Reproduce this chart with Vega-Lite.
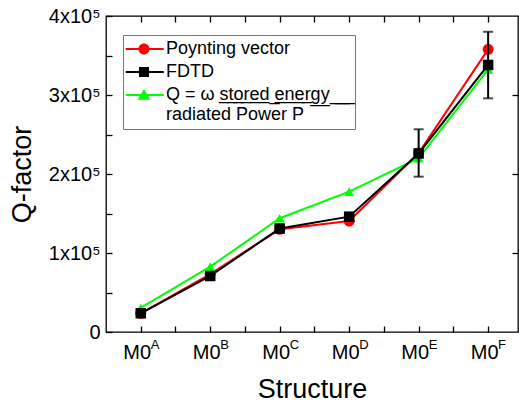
{
  "$schema": "https://vega.github.io/schema/vega-lite/v6.json",
  "width": 412,
  "height": 316,
  "autosize": "none",
  "padding": {"left": 106, "top": 16, "right": 1, "bottom": 73},
  "background": "white",
  "config": {
    "view": {"stroke": "#000", "strokeWidth": 1.3},
    "font": "Liberation Sans",
    "axis": {
      "labelFont": "Liberation Sans", "titleFont": "Liberation Sans",
      "labelColor": "#000", "titleColor": "#000", "tickColor": "#000", "tickWidth": 1.3,
      "grid": false, "domain": false, "labelFontSize": 20, "titleFontSize": 27,
      "titleFontWeight": "normal", "labelOverlap": false, "labelFlush": false
    }
  },
  "datasets": {
    "q": [
      {"structure": "M0A", "idx": 1, "series": "Poynting vector", "q": 23700},
      {"structure": "M0B", "idx": 2, "series": "Poynting vector", "q": 73400},
      {"structure": "M0C", "idx": 3, "series": "Poynting vector", "q": 130000},
      {"structure": "M0D", "idx": 4, "series": "Poynting vector", "q": 140500},
      {"structure": "M0E", "idx": 5, "series": "Poynting vector", "q": 226600},
      {"structure": "M0F", "idx": 6, "series": "Poynting vector", "q": 357800},
      {"structure": "M0A", "idx": 1, "series": "Q", "q": 30400},
      {"structure": "M0B", "idx": 2, "series": "Q", "q": 82700},
      {"structure": "M0C", "idx": 3, "series": "Q", "q": 144000},
      {"structure": "M0D", "idx": 4, "series": "Q", "q": 177600},
      {"structure": "M0E", "idx": 5, "series": "Q", "q": 220000},
      {"structure": "M0F", "idx": 6, "series": "Q", "q": 332500},
      {"structure": "M0A", "idx": 1, "series": "FDTD", "q": 23700},
      {"structure": "M0B", "idx": 2, "series": "FDTD", "q": 70900},
      {"structure": "M0C", "idx": 3, "series": "FDTD", "q": 131000},
      {"structure": "M0D", "idx": 4, "series": "FDTD", "q": 146000},
      {"structure": "M0E", "idx": 5, "series": "FDTD", "q": 226000},
      {"structure": "M0F", "idx": 6, "series": "FDTD", "q": 338000}
    ],
    "err": [
      {"structure": "M0E", "idx": 5, "lo": 196600, "hi": 256600},
      {"structure": "M0F", "idx": 6, "lo": 295800, "hi": 380000}
    ],
    "cats": [
      {"structure": "M0A", "idx": 1, "sup": "A"},
      {"structure": "M0B", "idx": 2, "sup": "B"},
      {"structure": "M0C", "idx": 3, "sup": "C"},
      {"structure": "M0D", "idx": 4, "sup": "D"},
      {"structure": "M0E", "idx": 5, "sup": "E"},
      {"structure": "M0F", "idx": 6, "sup": "F"}
    ]
  },
  "data": {"name": "q"},
  "resolve": {
    "axis": {"x": "independent", "y": "independent"},
    "scale": {"color": "independent", "shape": "independent", "size": "independent"},
    "legend": {"color": "independent", "shape": "independent", "size": "independent"}
  },
  "layer": [
    {
      "mark": {"type": "line", "strokeWidth": 2},
      "encoding": {
        "x": {"field": "idx", "type": "quantitative", "scale": {"domain": [0.5, 6.43], "nice": false, "zero": false},
          "axis": {"orient": "bottom", "values": [1, 1.5, 2, 2.5, 3, 3.5, 4, 4.5, 5, 5.5, 6], "tickSize": -6,
            "labelExpr": "datum.value % 1 === 0 ? 'M0' : ''", "labelPadding": 16, "labelOffset": -4,
            "title": "Structure", "titlePadding": 14,
            "encode": {"ticks": {"update": {"y2": {"signal": "datum.value % 1 === 0 ? -6 : -3"}}}}}},
        "y": {"field": "q", "type": "quantitative", "scale": {"domain": [0, 400000], "nice": false},
          "axis": {"orient": "left", "values": [0, 50000, 100000, 150000, 200000, 250000, 300000, 350000, 400000], "tickSize": -6,
            "labelExpr": "datum.value === 0 ? '0' : (datum.value % 100000 === 0 ? format(datum.value / 100000, 'd') + 'x10\u2075' : '')",
            "labelPadding": 12, "title": "Q-factor", "titlePadding": 12,
            "encode": {"ticks": {"update": {"x2": {"signal": "datum.value % 100000 === 0 ? 6 : 3"}}}}}},
        "color": {"field": "series", "type": "nominal",
          "scale": {"domain": ["Poynting vector", "FDTD", "Q"], "range": ["#ff0000", "#000000", "#00ff00"]}, "legend": null}
      }
    },
    {
      "mark": {"type": "point", "filled": true, "opacity": 1},
      "encoding": {
        "x": {"field": "idx", "type": "quantitative",
          "axis": {"orient": "top", "values": [1, 1.5, 2, 2.5, 3, 3.5, 4, 4.5, 5, 5.5, 6], "tickSize": -6, "labels": false, "title": null,
            "encode": {"ticks": {"update": {"y2": {"signal": "datum.value % 1 === 0 ? 6 : 3"}}}}}},
        "y": {"field": "q", "type": "quantitative",
          "axis": {"orient": "right", "values": [100000, 200000, 300000], "tickSize": -6, "labels": false, "title": null}},
        "color": {"field": "series", "type": "nominal",
          "scale": {"domain": ["Poynting vector", "FDTD", "Q"], "range": ["#ff0000", "#000000", "#00ff00"]}, "legend": null},
        "shape": {"field": "series", "type": "nominal",
          "scale": {"domain": ["Poynting vector", "FDTD", "Q"], "range": ["circle", "square", "triangle-up"]}, "legend": null},
        "size": {"field": "series", "type": "nominal",
          "scale": {"domain": ["Poynting vector", "FDTD", "Q"], "range": [121, 100, 150]}, "legend": null}
      }
    },
    {
      "data": {"name": "err"},
      "mark": {"type": "errorbar", "ticks": true, "size": 10, "thickness": 2, "color": "#000"},
      "encoding": {
        "x": {"field": "idx", "type": "quantitative", "axis": null},
        "y": {"field": "lo", "type": "quantitative", "axis": null},
        "y2": {"field": "hi"}
      }
    },
    {
      "data": {"name": "cats"},
      "mark": {"type": "text", "fontSize": 13, "align": "left", "baseline": "alphabetic", "dx": 10, "dy": 17, "font": "Liberation Sans", "color": "#000"},
      "encoding": {
        "x": {"field": "idx", "type": "quantitative", "axis": null},
        "y": {"datum": 0, "type": "quantitative", "axis": null},
        "text": {"field": "sup"}
      }
    },
    {
      "mark": {"type": "point", "filled": true, "opacity": 0},
      "encoding": {
        "x": {"field": "idx", "type": "quantitative", "axis": null},
        "y": {"field": "q", "type": "quantitative", "axis": null},
        "color": {"field": "series", "type": "nominal",
          "scale": {"domain": ["Poynting vector", "FDTD", "Q"], "range": ["#ff0000", "#000000", "#00ff00"]},
          "legend": {"title": null, "orient": "none", "legendX": 17, "legendY": 19,
            "labelExpr": "datum.label === 'Q' ? ['Q = \u03c9 s\u0332t\u0332o\u0332r\u0332e\u0332d\u0332\u00a0\u0332e\u0332n\u0332e\u0332r\u0332g\u0332y\u0332\u00a0\u0332\u00a0\u0332\u00a0\u0332\u00a0\u0332', '\u00a0\u00a0\u00a0\u00a0\u00a0\u00a0\u00a0\u00a0\u00a0\u00a0\u00a0radiated Power P'] : datum.label",
            "labelFont": "Liberation Sans", "labelFontSize": 18, "labelColor": "#000", "labelLimit": 400,
            "symbolSize": 256, "symbolStrokeWidth": 0, "symbolOpacity": 1,
            "strokeColor": "#777", "fillColor": "white", "padding": 5, "rowPadding": 5, "labelOffset": 20}},
        "shape": {"field": "series", "type": "nominal",
          "scale": {"domain": ["Poynting vector", "FDTD", "Q"],
            "range": [
              "M-1.41,-0.125H3.34V0.125H-1.41Z M1.565,0A0.69,0.69 0 1,1 0.185,0A0.69,0.69 0 1,1 1.565,0Z",
              "M-1.41,-0.125H3.34V0.125H-1.41Z M0.25,-0.625H1.5V0.625H0.25Z",
              "M-1.41,-0.125H3.34V0.125H-1.41Z M0.875,-0.75L1.675,0.6L0.075,0.6Z"
            ]},
          "legend": {"title": null, "orient": "none", "legendX": 17, "legendY": 19,
            "labelExpr": "datum.label === 'Q' ? ['Q = \u03c9 s\u0332t\u0332o\u0332r\u0332e\u0332d\u0332\u00a0\u0332e\u0332n\u0332e\u0332r\u0332g\u0332y\u0332\u00a0\u0332\u00a0\u0332\u00a0\u0332\u00a0\u0332', '\u00a0\u00a0\u00a0\u00a0\u00a0\u00a0\u00a0\u00a0\u00a0\u00a0\u00a0radiated Power P'] : datum.label",
            "labelFont": "Liberation Sans", "labelFontSize": 18, "labelColor": "#000", "labelLimit": 400,
            "symbolSize": 256, "symbolStrokeWidth": 0, "symbolOpacity": 1,
            "strokeColor": "#777", "fillColor": "white", "padding": 5, "rowPadding": 5, "labelOffset": 20}}
      }
    }
  ]
}
